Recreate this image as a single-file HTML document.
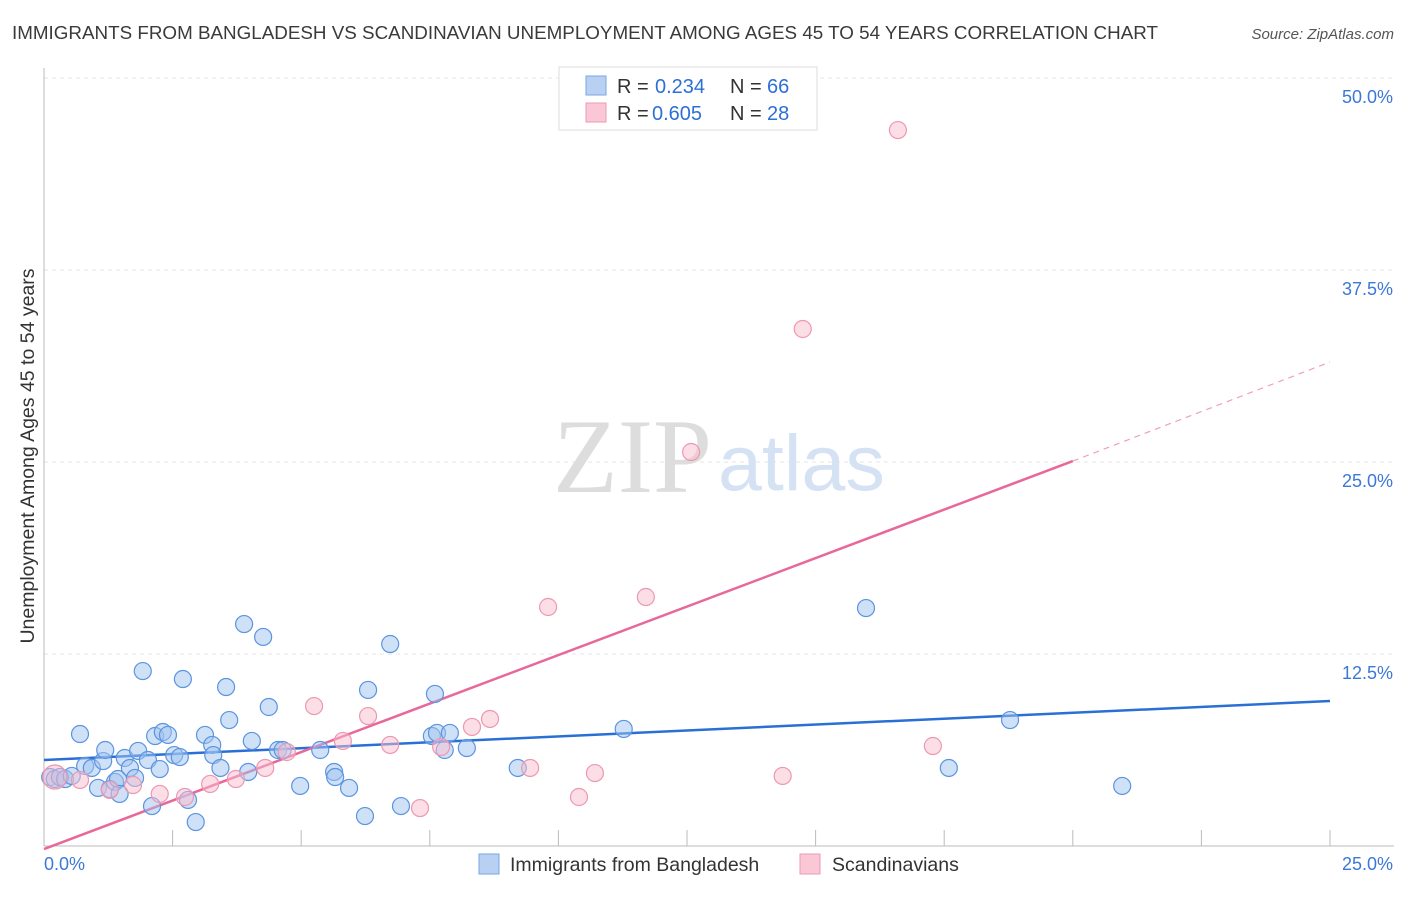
<!DOCTYPE html>
<html><head><meta charset="utf-8"><style>
body{margin:0;background:#fff;font-family:"Liberation Sans",sans-serif;}
</style></head><body>
<svg width="1406" height="892" xmlns="http://www.w3.org/2000/svg" font-family="Liberation Sans, sans-serif">
<text x="12" y="39" font-size="18" textLength="1146" lengthAdjust="spacingAndGlyphs" fill="#3a3a3a">IMMIGRANTS FROM BANGLADESH VS SCANDINAVIAN UNEMPLOYMENT AMONG AGES 45 TO 54 YEARS CORRELATION CHART</text>
<text x="1394" y="39" font-size="15" fill="#555" text-anchor="end" font-style="italic">Source: ZipAtlas.com</text>
<g id="grid"></g>
<line x1="44" y1="68" x2="44" y2="846" stroke="#bbb"/>
<line x1="44" y1="846" x2="1394" y2="846" stroke="#bbb"/>
<text x="553" y="492" font-size="106" fill="#ddd" font-family="Liberation Serif, serif">ZIP</text>
<text x="718" y="490" font-size="79" fill="#d4e2f4">atlas</text>
<g id="ticks"></g>
<g id="lines"></g>
<g id="pts"></g>
<text transform="translate(34,456) rotate(-90)" font-size="19.5" fill="#333" text-anchor="middle">Unemployment Among Ages 45 to 54 years</text>
<g>
<rect x="559" y="67" width="258" height="63" fill="#fff" stroke="#ddd"/>
<rect x="586" y="76" width="20" height="19" fill="#b8d1f3" stroke="#7aa6e6"/>
<rect x="586" y="103" width="20" height="19" fill="#fac7d6" stroke="#ee99b2"/>
<text x="617" y="93" font-size="20" fill="#333">R =</text><text x="655" y="93" font-size="20" fill="#2e6fd6">0.234</text>
<text x="730" y="93" font-size="20" fill="#333">N =</text><text x="767" y="93" font-size="20" fill="#2e6fd6">66</text>
<text x="617" y="120" font-size="20" fill="#333">R =</text><text x="652" y="120" font-size="20" fill="#2e6fd6">0.605</text>
<text x="730" y="120" font-size="20" fill="#333">N =</text><text x="767" y="120" font-size="20" fill="#2e6fd6">28</text>
</g>
<g>
<rect x="479" y="854" width="20" height="20" fill="#b8d1f3" stroke="#7aa6e6"/>
<text x="510" y="871" font-size="19.5" fill="#333">Immigrants from Bangladesh</text>
<rect x="800" y="854" width="20" height="20" fill="#fac7d6" stroke="#ee99b2"/>
<text x="832" y="871" font-size="19.5" fill="#333">Scandinavians</text>
</g>
</svg>
<script>
const yTicks=[12.5,25,37.5,50];
const yTickLabels=["12.5%","25.0%","37.5%","50.0%"];
const xTickLabels=["0.0%","25.0%"];
const blueX=[0.12,0.21,0.31,0.41,0.54,0.70,0.80,0.93,1.05,1.15,1.19,1.28,1.38,1.44,1.47,1.57,1.67,1.77,1.83,1.92,2.02,2.10,2.16,2.25,2.31,2.41,2.53,2.64,2.70,2.80,2.95,3.13,3.27,3.29,3.43,3.54,3.60,3.89,3.97,4.04,4.26,4.37,4.55,4.64,4.98,5.37,5.64,5.66,5.93,6.24,6.30,6.73,6.94,7.60,7.54,7.64,7.79,7.89,8.22,9.21,11.27,15.98,17.59,18.78,20.96];
const blueY=[4.49,4.36,4.49,4.36,4.56,7.29,5.21,5.08,3.78,5.53,6.25,3.71,4.17,4.36,3.39,5.73,5.08,4.43,6.19,11.39,5.60,2.60,7.16,5.01,7.42,7.23,5.92,5.79,10.87,3.00,1.56,7.23,6.58,5.92,5.08,10.35,8.20,14.45,4.82,6.84,13.61,9.05,6.25,6.25,3.91,6.25,4.82,4.49,3.78,1.95,10.16,13.15,2.60,9.90,7.16,7.36,6.25,7.36,6.38,5.08,7.62,15.49,5.08,8.20,3.91];
const pinkX=[0.21,0.70,1.28,1.73,2.25,2.74,3.23,3.73,4.30,4.72,5.25,5.81,6.30,6.73,7.31,7.72,8.32,8.67,9.45,9.80,10.40,10.71,11.70,12.58,14.36,14.75,16.60,17.28];
const pinkY=[4.49,4.30,3.65,3.97,3.39,3.19,4.04,4.36,5.08,6.12,9.11,6.84,8.46,6.58,2.47,6.45,7.75,8.27,5.08,15.56,3.19,4.75,16.21,25.65,4.56,33.66,46.61,6.51];
const blueTrend=[[0,5.6],[25,9.44]];
const pinkTrend=[[0,-0.2],[20,25.06],[25,31.51]];
const X=v=>44+v/25*1286, Y=v=>846-v/50*768;
const NS="http://www.w3.org/2000/svg";
function mk(t,a,p){const e=document.createElementNS(NS,t);for(const k in a)e.setAttribute(k,a[k]);document.getElementById(p).appendChild(e);return e;}
yTicks.forEach((t,i)=>{
 const g=mk('line',{x1:44,x2:1394,y1:Y(t),y2:Y(t),stroke:'#e6e6e6','stroke-dasharray':'4,4'},'grid');
 
 
 const l=mk('text',{x:1393,y:Y(t)+25,'font-size':18,fill:'#3b78d8','text-anchor':'end'},'ticks');
 l.textContent=yTickLabels[i];
 
 
});
for(let i=1;i<=10;i++){
 const t=mk('line',{x1:X(i*2.5),x2:X(i*2.5),y1:830,y2:846,stroke:'#bbb'},'ticks');
 
 
}
[[0,44,'start'],[1,1393,'end']].forEach(([i,x,a])=>{
 const l=mk('text',{x:x,y:870,'font-size':18,fill:'#3b78d8','text-anchor':a},'ticks');
 l.textContent=xTickLabels[i];
 
 
});
blueX.forEach((x,i)=>{
 const c=mk('circle',{cx:X(x),cy:Y(blueY[i]),r:8.5,fill:'rgba(160,196,240,0.5)',stroke:'#5b94e0','stroke-width':1.2},'pts');
 
 
});
pinkX.forEach((x,i)=>{
 const c=mk('circle',{cx:X(x),cy:Y(pinkY[i]),r:i==0?12:8.5,fill:'rgba(250,190,208,0.5)',stroke:'#ee97b0','stroke-width':1.2},'pts');
 
 
});
const bl=mk('line',{x1:X(blueTrend[0][0]),y1:Y(blueTrend[0][1]),x2:X(blueTrend[1][0]),y2:Y(blueTrend[1][1]),stroke:'#2a6fd6','stroke-width':2.5},'lines');


const pl=mk('line',{x1:X(pinkTrend[0][0]),y1:Y(pinkTrend[0][1]),x2:X(pinkTrend[1][0]),y2:Y(pinkTrend[1][1]),stroke:'#e8689a','stroke-width':2.5},'lines');


const pd=mk('line',{x1:X(pinkTrend[1][0]),y1:Y(pinkTrend[1][1]),x2:X(pinkTrend[2][0]),y2:Y(pinkTrend[2][1]),stroke:'#eea0bc','stroke-width':1.2,'stroke-dasharray':'6,5'},'lines');


</script>
</body></html>
